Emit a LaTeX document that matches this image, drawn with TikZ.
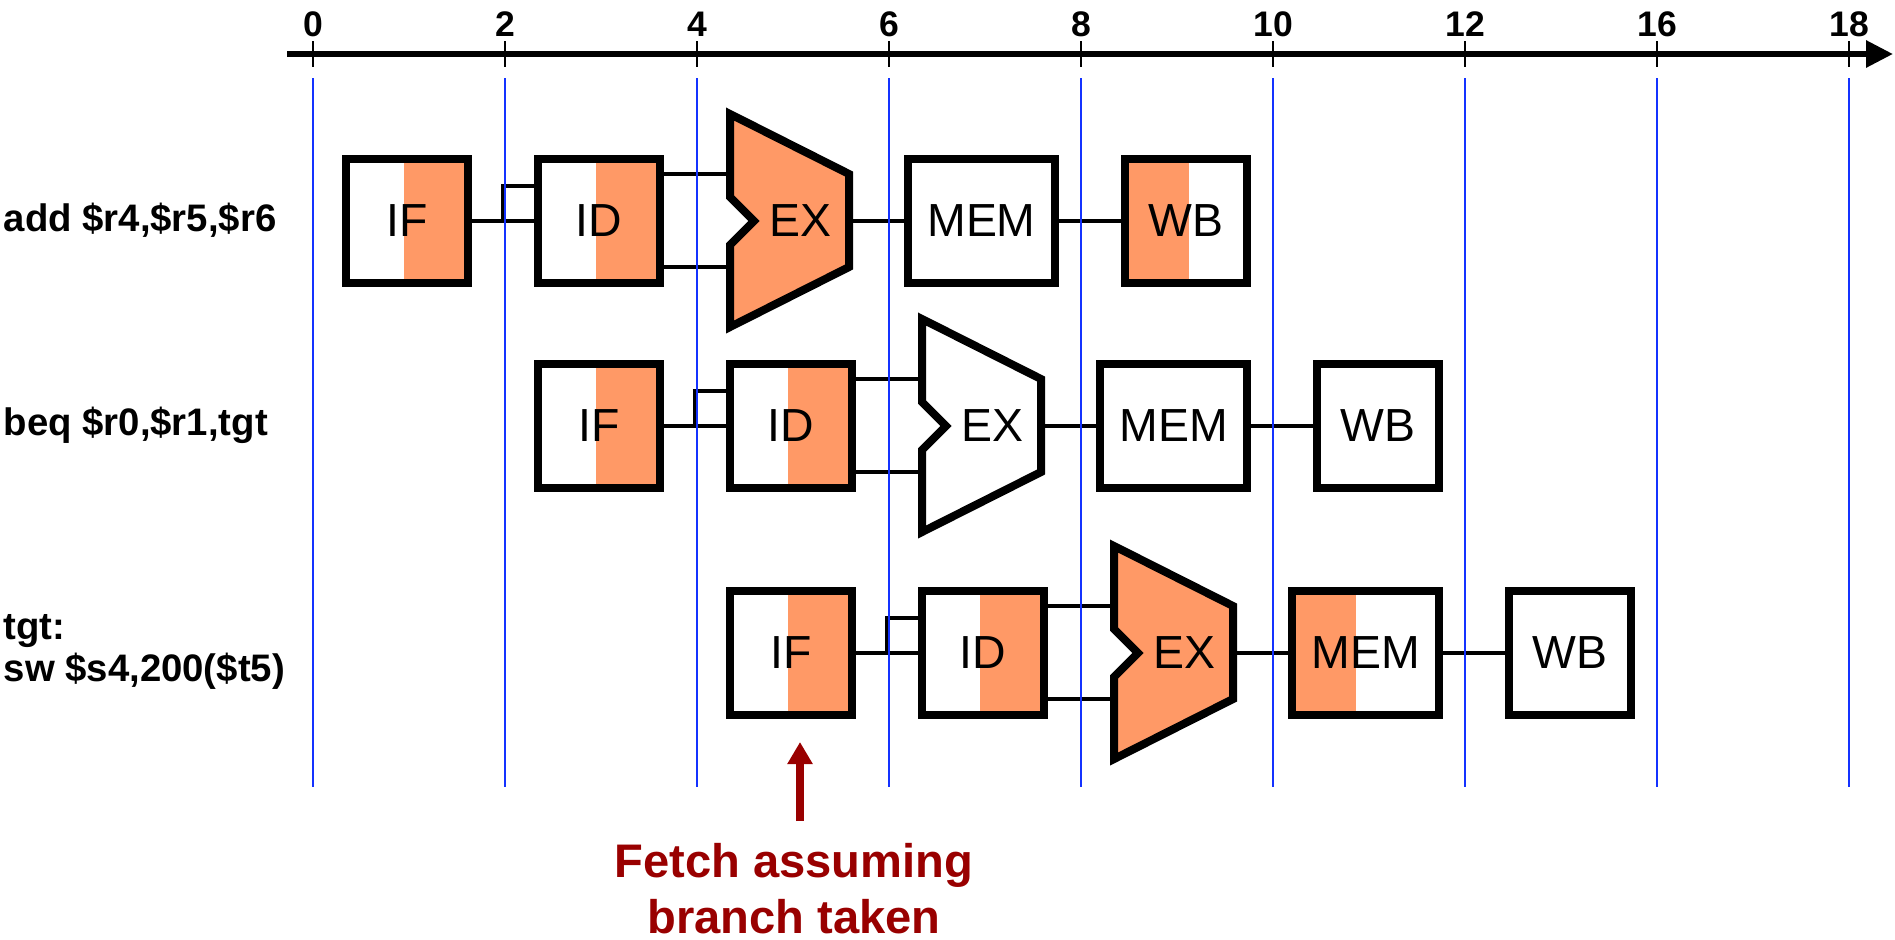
\documentclass[tikz,border=0pt]{standalone}
\usepackage{fontspec}
\setmainfont{Liberation Sans}
\usetikzlibrary{arrows.meta,calc}
\definecolor{org}{HTML}{FF9966}
\definecolor{gridblue}{RGB}{20,50,255}
\definecolor{darkred}{HTML}{990000}
\newcommand{\drawalu}[2]{\draw[exshape,#2] (#1) ++(-70,-107) -- ++(119,60) -- ++(0,93) -- ++(-119,60) -- ++(0,-82) -- ++(24,-24) -- ++(-24,-24) -- cycle;}
\begin{document}
\begin{tikzpicture}[x=0.01cm,y=-0.01cm,
  stagebox/.style={draw, line width=2.28pt, minimum width=1.22cm, minimum height=1.23cm, inner sep=0pt, font=\fontsize{13.2}{15}\selectfont},
  membox/.style={stagebox, minimum width=1.47cm},
  orright/.style={path picture={\fill[org] ([xshift=-0.64cm]path picture bounding box.south east) rectangle (path picture bounding box.north east);}},
  orleft/.style={path picture={\fill[org] (path picture bounding box.south west) rectangle ([xshift=0.64cm]path picture bounding box.north west);}},
  exlabel/.style={inner sep=0pt, font=\fontsize{13.2}{15}\selectfont},
  exshape/.style={draw, line width=2.28pt, line join=miter},
  conn/.style={line width=1.14pt},
  gridline/.style={gridblue, line width=0.57pt},
  axisline/.style={line width=1.7pt, -{Triangle[length=0.27cm,width=0.26cm]}},
  tickmark/.style={line width=0.7pt},
  ticklabel/.style={font=\bfseries\fontsize{10.1}{12}\selectfont, inner sep=0pt},
  rowlabel/.style={font=\bfseries\fontsize{10.9}{12.2}\selectfont, inner sep=0pt, anchor=west, align=left},
  fetchlabel/.style={text=darkred, font=\bfseries\fontsize{13.4}{15.9}\selectfont, inner sep=0pt, align=center, anchor=north},
  fetcharrow/.style={darkred, line width=2.28pt, -{Triangle[length=0.22cm,width=0.24cm]}}
]
\useasboundingbox (0,0) rectangle (1895,939);

% axis
\coordinate (axs) at (287,54);
\coordinate (axe) at (1893,54);
\draw[axisline] (axs) -- (axe);
\foreach \i/\t in {0/0,1/2,2/4,3/6,4/8,5/10,6/12,7/16,8/18} {
  \draw[tickmark] ({313+192*\i},41) -- ({313+192*\i},67);
  \node[ticklabel] (t\i) at ({313+192*\i},24) {\t};
}

% row labels
\node[rowlabel] (lab1) at (3,220) {add \$r4,\$r5,\$r6};
\node[rowlabel] (lab2) at (3,425) {beq \$r0,\$r1,tgt};
\node[rowlabel] (lab3) at (3,652) {tgt:\\sw \$s4,200(\$t5)};

% row 1
\node[stagebox,orright] (if1) at (407,221) {IF};
\node[stagebox,orright] (id1) at (599,221) {ID};
\coordinate (ex1c) at (800,221);
\drawalu{ex1c}{fill=org}
\node[exlabel] (ex1) at (ex1c) {EX};
\node[membox] (mem1) at (981.5,221) {MEM};
\node[stagebox,orleft] (wb1) at (1186,221) {WB};
\coordinate (ex1u) at ($(ex1c)+(-70,-47)$);
\coordinate (ex1l) at ($(ex1c)+(-70,46)$);
\coordinate (ex1o) at ($(ex1c)+(49,0)$);
\draw[conn] (if1.east) -- (id1.west);
\draw[conn] ($(if1.east)!0.5!(id1.west)$) -- ++(0,-35) -- ($(id1.west)+(0,-35)$);
\draw[conn] (id1.east |- ex1u) -- (ex1u);
\draw[conn] (id1.east |- ex1l) -- (ex1l);
\draw[conn] (ex1o) -- (mem1.west);
\draw[conn] (mem1.east) -- (wb1.west);

% row 2
\node[stagebox,orright] (if2) at (599,426) {IF};
\node[stagebox,orright] (id2) at (791,426) {ID};
\coordinate (ex2c) at (992,426);
\drawalu{ex2c}{fill=white}
\node[exlabel] (ex2) at (ex2c) {EX};
\node[membox] (mem2) at (1173.5,426) {MEM};
\node[stagebox] (wb2) at (1378,426) {WB};
\coordinate (ex2u) at ($(ex2c)+(-70,-47)$);
\coordinate (ex2l) at ($(ex2c)+(-70,46)$);
\coordinate (ex2o) at ($(ex2c)+(49,0)$);
\draw[conn] (if2.east) -- (id2.west);
\draw[conn] ($(if2.east)!0.5!(id2.west)$) -- ++(0,-35) -- ($(id2.west)+(0,-35)$);
\draw[conn] (id2.east |- ex2u) -- (ex2u);
\draw[conn] (id2.east |- ex2l) -- (ex2l);
\draw[conn] (ex2o) -- (mem2.west);
\draw[conn] (mem2.east) -- (wb2.west);

% row 3
\node[stagebox,orright] (if3) at (791,653) {IF};
\node[stagebox,orright] (id3) at (983,653) {ID};
\coordinate (ex3c) at (1184,653);
\drawalu{ex3c}{fill=org}
\node[exlabel] (ex3) at (ex3c) {EX};
\node[membox,orleft] (mem3) at (1365.5,653) {MEM};
\node[stagebox] (wb3) at (1570,653) {WB};
\coordinate (ex3u) at ($(ex3c)+(-70,-47)$);
\coordinate (ex3l) at ($(ex3c)+(-70,46)$);
\coordinate (ex3o) at ($(ex3c)+(49,0)$);
\draw[conn] (if3.east) -- (id3.west);
\draw[conn] ($(if3.east)!0.5!(id3.west)$) -- ++(0,-35) -- ($(id3.west)+(0,-35)$);
\draw[conn] (id3.east |- ex3u) -- (ex3u);
\draw[conn] (id3.east |- ex3l) -- (ex3l);
\draw[conn] (ex3o) -- (mem3.west);
\draw[conn] (mem3.east) -- (wb3.west);

% grid lines
\foreach \i in {0,...,8} {
  \draw[gridline] ({313+192*\i},78) -- ({313+192*\i},787);
}

% fetch annotation
\coordinate (ftail) at (800,821);
\coordinate (fhead) at (800,742);
\draw[fetcharrow] (ftail) -- (fhead);
\node[fetchlabel] (fetch) at (794,843) {Fetch assuming\\branch taken};
\end{tikzpicture}
\end{document}
